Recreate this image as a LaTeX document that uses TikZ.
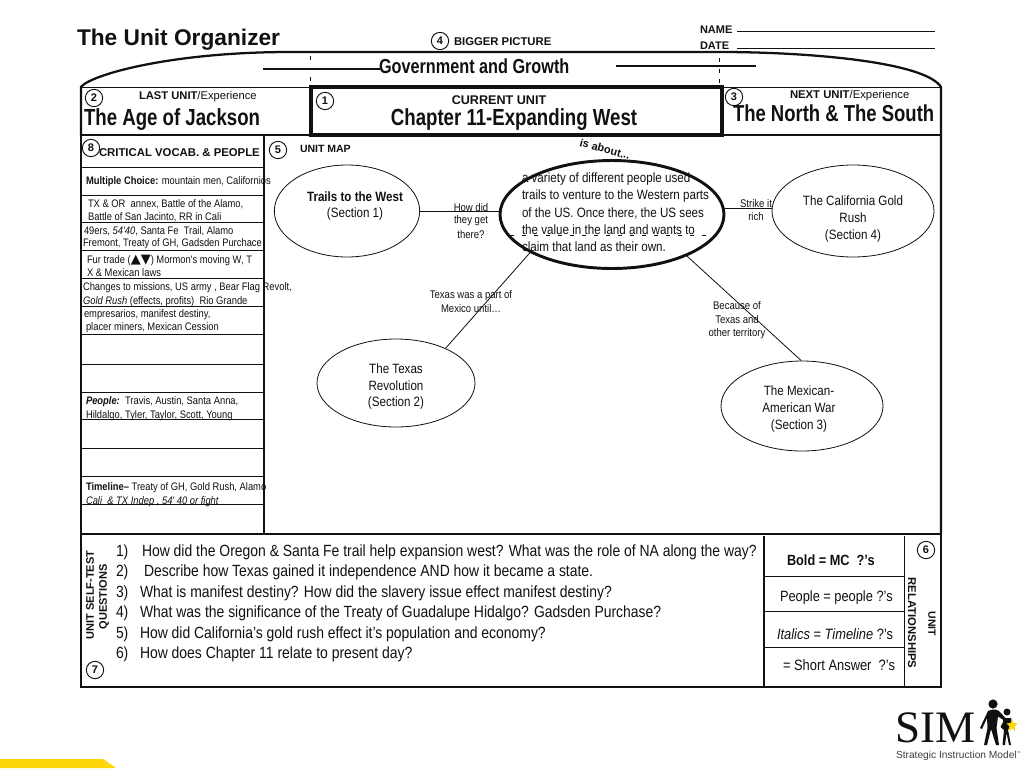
\documentclass[tikz,border=0pt]{standalone}
\usepackage{fontspec}
\setmainfont{Liberation Sans}
\newfontfamily\nf[FakeStretch=0.86]{Liberation Sans}
\newfontfamily\nnf[FakeStretch=0.8]{Liberation Sans}
\newfontfamily\symf{DejaVu Sans}
\newfontfamily\logof{Liberation Serif}
\newcommand{\fpx}[1]{\fontsize{\fpeval{#1*0.75}}{\fpeval{#1*0.9}}\selectfont}
\definecolor{ink}{HTML}{111111}
\definecolor{simyellow}{HTML}{FFD60A}
\tikzset{
  txt/.style={inner sep=0pt,outer sep=0pt,anchor=west,text=ink,yshift=-0.75pt},
  ctr/.style={inner sep=0pt,outer sep=0pt,anchor=center,text=ink,yshift=-0.75pt},
  small/.style={font=\nf\fpx{10.9}},
  conn/.style={font=\nf\fpx{11.1}},
  ell/.style={font=\nf\fpx{13.5}},
  ques/.style={font=\nf\fpx{16.2}},
  bigb/.style={font=\nnf\bfseries\fpx{23.3}},
  oval/.style={draw=ink,ellipse,inner sep=0pt,line width=0.6pt},
  numc/.style={draw=ink,circle,line width=0.7pt,minimum size=13pt,inner sep=0pt,font=\bfseries\fpx{11},text=ink},
  rule/.style={draw=ink,line width=0.7pt},
  thick rule/.style={draw=ink,line width=1.7pt},
  link/.style={draw=ink,line width=0.6pt},
}
\usetikzlibrary{shapes.geometric}
\begin{document}
\begin{tikzpicture}[x=0.75pt,y=-0.75pt]
\useasboundingbox (0,0) rectangle (1024,768);
\fill[white] (0,0) rectangle (1024,768);
\fill[simyellow] (0,768) -- (0,759) -- (103,759) -- (116,768) -- cycle;

% frame
\draw[thick rule,line join=round] (81,135) -- (81,87) .. controls (90,75) and (170,52) .. (290,52) -- (720,52) .. controls (810,52) and (925,62) .. (941,87) -- (941,534);
\draw[rule] (81,87) -- (310,87) (722,87) -- (940,87);
\draw[thick rule] (81,135) -- (941,135);
\draw[thick rule] (81,135) -- (81,687) -- (941,687) -- (941,534) -- (81,534);
\draw[thick rule] (264,135) -- (264,534);
\draw[thick rule] (764,536) -- (764,687);
\draw[rule] (904,536) -- (904,687);
\draw[rule] (765,576) -- (904,576) (765,611) -- (904,611) (765,647) -- (904,647);
\draw[draw=ink,line width=3pt] (310.5,87) rectangle (721.5,134.5);
\foreach \yy in {167,195,222,250,278,306,334,364,392,419,448,476,504}
  \draw[rule] (82,\yy) -- (264,\yy);

% bigger-picture rules
\draw[thick rule] (263,69) -- (380,69);
\draw[thick rule] (616,66) -- (756,66);
\draw[draw=ink,line width=0.5pt,dash pattern=on 3pt off 13pt] (310,56) -- (310,87);
\draw[draw=ink,line width=0.5pt,dash pattern=on 3pt off 5pt] (719,58) -- (719,87);
\draw[rule] (737,31) -- (935,31);
\draw[rule] (737,48) -- (935,48);

% map
\node[oval,minimum width=109pt,minimum height=69pt] (trails) at (347,211) {};
\node[oval,minimum width=121.5pt,minimum height=69pt] (gold) at (853,211) {};
\node[oval,minimum width=118.5pt,minimum height=66pt] (texas) at (396,383) {};
\node[oval,minimum width=121.5pt,minimum height=67.5pt] (war) at (802,406) {};
\node[oval,line width=2.2pt,minimum width=168pt,minimum height=81pt] (core) at (612,214.5) {};
\draw[link] (trails.east) -- (trails.east -| core.west);
\draw[link] (core.3) -- (core.3 -| gold.west);
\draw[link] (core.205) -- (texas.35);
\draw[link] (core.331) -- (war.91);
\draw[draw=ink,line width=0.5pt,dash pattern=on 3pt off 6pt] (510,235) -- (712,235);

% titles
\node[txt,font=\bfseries\fpx{22.7}] (title) at (77,39) {The Unit Organizer};
\node[txt,font=\bfseries\fpx{11}] (name) at (700,29) {NAME};
\node[txt,font=\bfseries\fpx{11}] (date) at (700,45) {DATE};
\node[txt,font=\bfseries\fpx{11.3}] (bigger) at (454,41) {BIGGER PICTURE};
\node[txt,font=\nnf\bfseries\fpx{20.3}] (gov) at (379,65) {Government and Growth};
\node[txt,font=\fpx{11.2}] (last) at (139,96) {\textbf{LAST UNIT}/Experience};
\node[txt,bigb] (jackson) at (84,119) {The Age of Jackson};
\node[ctr,font=\bfseries\fpx{12.6}] (current) at (499,99) {CURRENT UNIT};
\node[ctr,bigb] (chapter) at (514,119) {Chapter 11-Expanding West};
\node[txt,font=\fpx{11.3}] (next) at (790,95) {\textbf{NEXT UNIT}/Experience};
\node[txt,font=\nnf\bfseries\fpx{23.1}] (north) at (733,112) {The North \& The South};
\node[txt,font=\bfseries\fpx{11.35}] (vocab) at (99,152) {CRITICAL VOCAB. \& PEOPLE};
\node[txt,font=\bfseries\fpx{10.5}] (unitmap) at (300,148) {UNIT MAP};
\node[ctr,font=\bfseries\fpx{11},rotate=-15] (about) at (605,148) {is about...};

% numbered circles
\node[numc] (n1) at (325,101) {1};
\node[numc] (n2) at (94,98) {2};
\node[numc] (n3) at (734,97) {3};
\node[numc] (n4) at (440,41) {4};
\node[numc] (n5) at (278,150) {5};
\node[numc] (n6) at (926,550) {6};
\node[numc] (n7) at (95,670) {7};
\node[numc] (n8) at (91,148) {8};

% vocabulary list
\node[txt,small] (v1) at (86,181) {\textbf{Multiple Choice:} mountain men, Californios};
\node[txt,small] (v2) at (88,203) {TX \& OR\ \ annex, Battle of the Alamo,};
\node[txt,small] (v3) at (88,216) {Battle of San Jacinto, RR in Cali};
\node[txt,small] (v4) at (84,230) {49ers, \textit{54'40}, Santa Fe\ \ Trail, Alamo};
\node[txt,small] (v5) at (83,243) {Fremont, Treaty of GH, Gadsden Purchace};
\node[txt,small] (v6) at (87,259) {Fur trade ({\symf\fpx{13}▲▼}) Mormon's moving W, T};
\node[txt,small] (v7) at (87,272) {X \& Mexican laws};
\node[txt,small] (v8) at (83,287) {Changes to missions, US army , Bear Flag Revolt,};
\node[txt,small] (v9) at (83,301) {\textit{Gold Rush} (effects, profits)\ \ Rio Grande};
\node[txt,small] (v10) at (84,314) {empresarios, manifest destiny,};
\node[txt,small] (v11) at (86,327) {placer miners, Mexican Cession};
\node[txt,small] (v12) at (86,401) {\textbf{\textit{People:}}\ \ Travis, Austin, Santa Anna,};
\node[txt,small] (v13) at (86,415) {Hildalgo, Tyler, Taylor, Scott, Young};
\node[txt,small] (v14) at (86,487) {\textbf{Timeline–} Treaty of GH, Gold Rush, Alamo};
\node[txt,small] (v15) at (86,501) {\textit{Cali\ \ \& TX Indep , 54' 40 or fight}};

% ellipse text
\node[ctr,font=\nf\bfseries\fpx{13.5}] (e1a) at (355,196) {Trails to the West};
\node[ctr,ell] (e1b) at (355,213) {(Section 1)};
\node[ctr,ell] (e2a) at (853,200) {The California Gold};
\node[ctr,ell] (e2b) at (853,217) {Rush};
\node[ctr,ell] (e2c) at (853,235) {(Section 4)};
\node[ctr,ell] (e3a) at (396,368) {The Texas};
\node[ctr,ell] (e3b) at (396,385) {Revolution};
\node[ctr,ell] (e3c) at (396,402) {(Section 2)};
\node[ctr,ell] (e4a) at (799,390) {The Mexican-};
\node[ctr,ell] (e4b) at (799,407) {American War};
\node[ctr,ell] (e4c) at (799,425) {(Section 3)};
\node[txt,ell] (c1) at (522,178) {a variety of different people used};
\node[txt,ell] (c2) at (522,195) {trails to venture to the Western parts};
\node[txt,ell] (c3) at (522,212) {of the US. Once there, the US sees};
\node[txt,ell] (c4) at (522,229) {the value in the land and wants to};
\node[txt,ell] (c5) at (522,246) {claim that land as their own.};

% connector labels
\node[ctr,conn] (l1a) at (471,207) {How did};
\node[ctr,conn] (l1b) at (471,220) {they get};
\node[ctr,conn] (l1c) at (471,234) {there?};
\node[ctr,conn] (l2a) at (756,203) {Strike it};
\node[ctr,conn] (l2b) at (756,216) {rich};
\node[ctr,conn] (l3a) at (471,295) {Texas was a part of};
\node[ctr,conn] (l3b) at (471,308) {Mexico until…};
\node[ctr,conn] (l4a) at (737,305) {Because of};
\node[ctr,conn] (l4b) at (737,319) {Texas and};
\node[ctr,conn] (l4c) at (737,333) {other territory};

% self-test
\node[ctr,font=\bfseries\fpx{11},rotate=90,yshift=0.75pt] (st1) at (91,594) {UNIT SELF-TEST};
\node[ctr,font=\bfseries\fpx{11},rotate=90,yshift=0.75pt] (st2) at (105,596) {QUESTIONS};
\node[txt,ques] (q1n) at (116,551) {1)};
\node[txt,ques] (q1) at (142,551) {How did the Oregon \& Santa Fe trail help expansion west? What was the role of NA along the way?};
\node[txt,ques] (q2n) at (116,571) {2)};
\node[txt,ques] (q2) at (144,571) {Describe how Texas gained it independence AND how it became a state.};
\node[txt,ques] (q3n) at (116,592) {3)};
\node[txt,ques] (q3) at (140,592) {What is manifest destiny? How did the slavery issue effect manifest destiny?};
\node[txt,ques] (q4n) at (116,612) {4)};
\node[txt,ques] (q4) at (140,612) {What was the significance of the Treaty of Guadalupe Hidalgo? Gadsden Purchase?};
\node[txt,ques] (q5n) at (116,633) {5)};
\node[txt,ques] (q5) at (140,633) {How did California’s gold rush effect it’s population and economy?};
\node[txt,ques] (q6n) at (116,653) {6)};
\node[txt,ques] (q6) at (140,653) {How does Chapter 11 relate to present day?};

% legend
\node[txt,font=\nf\bfseries\fpx{14.8}] (r1) at (787,559) {Bold = MC\ \ ?’s};
\node[txt,font=\nf\fpx{14.9}] (r2) at (780,597) {People = people ?’s};
\node[txt,font=\nf\fpx{15}] (r3) at (777,633) {\textit{Italics} = \textit{Timeline} ?’s};
\node[txt,font=\nf\fpx{15}] (r4) at (783,664) {= Short Answer\ \ ?’s};
\node[ctr,font=\bfseries\fpx{11.3},rotate=-90] (rel) at (912,622) {RELATIONSHIPS};
\node[ctr,font=\bfseries\fpx{10.5},rotate=-90] (unit) at (932,623) {UNIT};

% SIM logo
\node[txt,font=\logof\fpx{45}] (sim) at (895,727) {SIM};
\node[txt,font=\fpx{10.2},text=black!75] (simsub) at (896,755) {Strategic Instruction Model\raisebox{3pt}{\fpx{4}™}};
\fill[ink] (993,704) circle (4.6);
\fill[ink] (1007,712) circle (3.5);
\fill[ink] (988,711) .. controls (992,709) and (996,709) .. (999,711) -- (1006,718.5) -- (1005,721) -- (998,716.5)
  -- (996.5,728) -- (999,745) -- (996,745) -- (991,729) -- (987,745) -- (984,745) -- (987.5,728) -- (987,718)
  -- (982,729) -- (980,728) -- cycle;
\fill[ink] (1003,718) -- (1011,718) -- (1012,722) -- (1008,730) -- (1011,745) -- (1009,745) -- (1006.5,733) -- (1005,745) -- (1002.5,745) -- (1004,730) -- (1000.5,727) -- (1003,722) -- cycle;
\fill[simyellow] (1012,719) -- (1013.4,723) -- (1017.5,723.5) -- (1014.5,726.5) -- (1015.5,731) -- (1012,728.5) -- (1008.5,731) -- (1009.5,726.5) -- (1006.5,723.5) -- (1010.6,723) -- cycle;
\end{tikzpicture}
\end{document}
